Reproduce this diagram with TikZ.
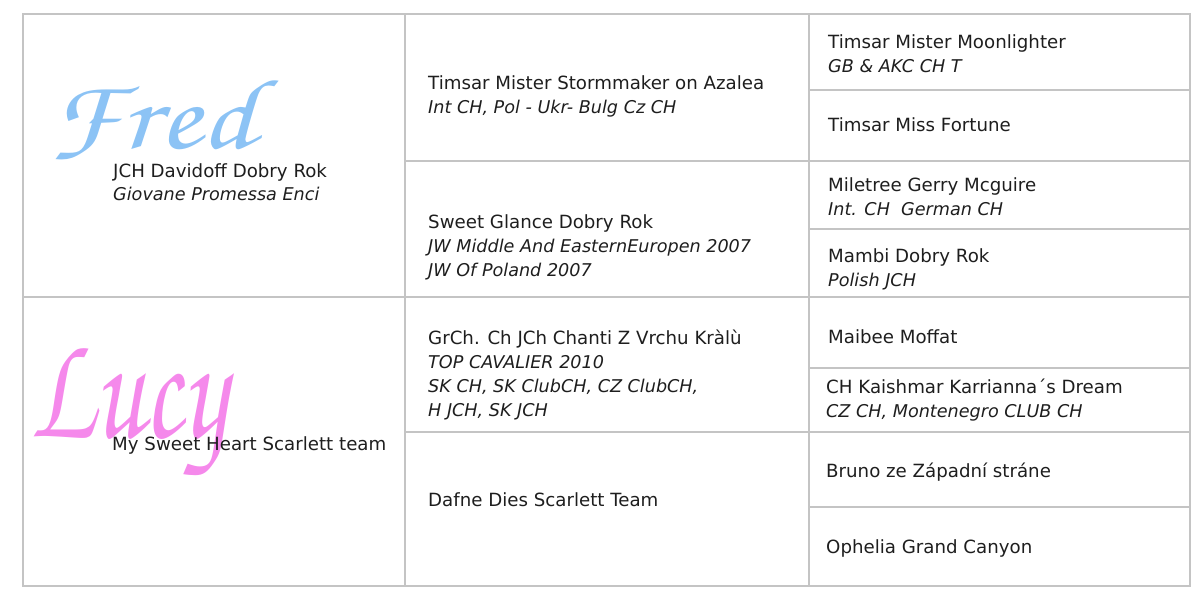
\documentclass[tikz,border=0pt]{standalone}
\usepackage{fontspec}
\setmainfont{DejaVu Sans}
\definecolor{gridgray}{HTML}{C4C4C4}
\definecolor{txt}{HTML}{1E1E1E}
\definecolor{fredblue}{HTML}{8CC3F5}
\definecolor{lucypink}{HTML}{F589EB}
\newcommand{\chanceryfont}{\fontencoding{OT1}\fontfamily{pzc}\fontseries{mb}\fontshape{it}}
\tikzset{
  grid/.style={draw=gridgray, line width=1.4pt},
  nm/.style={anchor=base west, inner sep=0pt, text=txt, font=\fontsize{18.2}{24}\selectfont},
  ti/.style={anchor=base west, inner sep=0pt, text=txt, font=\fontsize{17.6}{24}\selectfont\itshape},
  sig/.style={anchor=base west, inner sep=0pt}
}
\begin{document}
\begin{tikzpicture}[x=1pt,y=-1pt]
\useasboundingbox (0,0) rectangle (1200,600);
% grid
\draw[grid] (23,14) rectangle (1190,586);
\draw[grid] (405,14) -- (405,586);
\draw[grid] (809,14) -- (809,586);
\draw[grid] (23,297) -- (1190,297);
\draw[grid] (405,161) -- (1190,161);
\draw[grid] (405,432) -- (1190,432);
\foreach \yy in {90,229,368,507} \draw[grid] (809,\yy) -- (1190,\yy);
% script names
\node[sig, text=fredblue, font=\fontsize{100}{100}\chanceryfont\selectfont] (fred) at (48,148) {\scalebox{1.25}[1]{Fred}};
\node[sig, text=lucypink, font=\fontsize{110}{110}\chanceryfont\selectfont] (lucy) at (30,437) {\scalebox{1}[1.4]{Lucy}};
% column 1
\node[nm] (c1a) at (113,177) {JCH Davidoff Dobry Rok};
\node[ti] (c1at) at (113,200) {Giovane Promessa Enci};
\node[nm] (c1b) at (112,450) {My Sweet Heart Scarlett team};
% column 2
\node[nm] (c2a) at (428,89) {Timsar Mister Stormmaker on Azalea};
\node[ti] (c2at) at (428,113) {Int CH, Pol - Ukr- Bulg Cz CH};
\node[nm] (c2b) at (428,228) {Sweet Glance Dobry Rok};
\node[ti] (c2bt1) at (428,252) {JW Middle And EasternEuropen 2007};
\node[ti] (c2bt2) at (428,276) {JW Of Poland 2007};
\node[nm] (c2c) at (428,344) {GrCh. Ch JCh Chanti Z Vrchu Kràlù};
\node[ti] (c2ct1) at (428,368) {TOP CAVALIER 2010};
\node[ti] (c2ct2) at (428,392) {SK CH, SK ClubCH, CZ ClubCH,};
\node[ti] (c2ct3) at (428,416) {H JCH, SK JCH};
\node[nm] (c2d) at (428,506) {Dafne Dies Scarlett Team};
% column 3
\node[nm] (c3a) at (828,48) {Timsar Mister Moonlighter};
\node[ti] (c3at) at (828,72) {GB \& AKC CH T};
\node[nm] (c3b) at (828,131) {Timsar Miss Fortune};
\node[nm] (c3c) at (828,191) {Miletree Gerry Mcguire};
\node[ti] (c3ct) at (828,215) {Int. CH\ \ German CH};
\node[nm] (c3d) at (828,262) {Mambi Dobry Rok};
\node[ti] (c3dt) at (828,286) {Polish JCH};
\node[nm] (c3e) at (828,343) {Maibee Moffat};
\node[nm] (c3f) at (826,393) {CH Kaishmar Karrianna´s Dream};
\node[ti] (c3ft) at (826,417) {CZ CH, Montenegro CLUB CH};
\node[nm] (c3g) at (826,477) {Bruno ze Západní stráne};
\node[nm] (c3h) at (826,553) {Ophelia Grand Canyon};
\end{tikzpicture}
\end{document}
